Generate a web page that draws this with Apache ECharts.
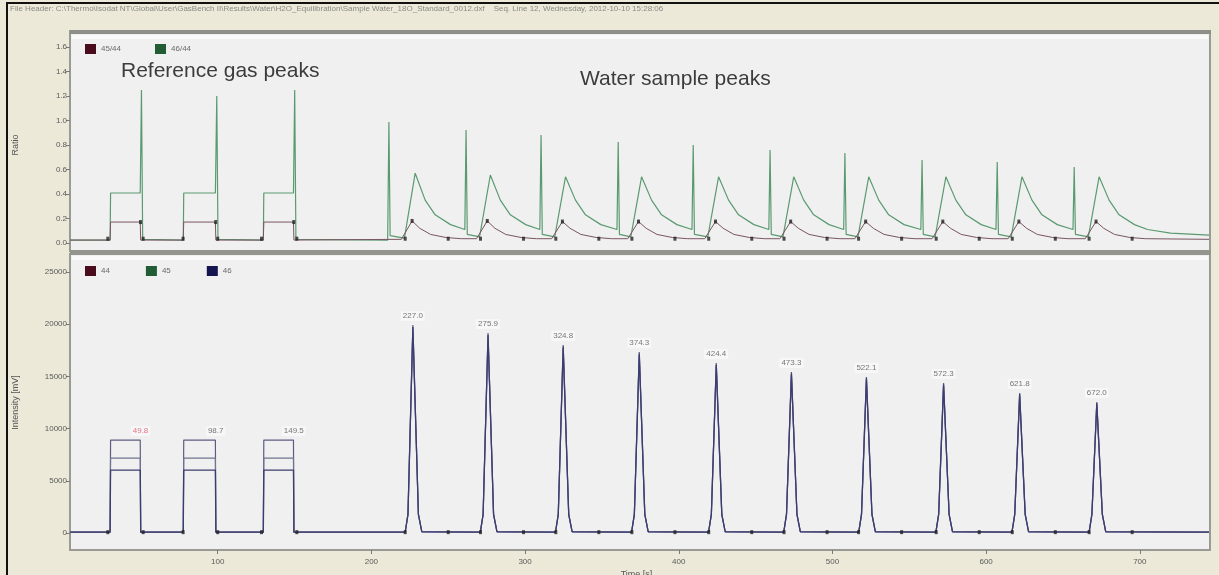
<!DOCTYPE html>
<html>
<head>
<meta charset="utf-8">
<script src="https://cdn.jsdelivr.net/npm/echarts@6/dist/echarts.min.js"></script>
<style>
html,body{margin:0;padding:0;background:#ece9d8;}
#c{width:1219px;height:575px;}
</style>
</head>
<body>
<div id="c"></div>
<script>
// ---------- DATA ----------
// Time axis ticks [s]
const xTickValues = [100, 200, 300, 400, 500, 600, 700];

// Lower panel: intensity traces [time s, intensity mV]
const m44 = [
  [4,80],
  [30.0,80],[30.3,8900],[49.6,8900],[49.9,80],
  [77.6,80],[77.9,8900],[98.5,8900],[98.8,80],
  [129.7,80],[130.0,8900],[149.3,8900],[149.6,80],
  [222.0,80],[223.8,1800],[227.0,19920],[230.6,1800],[232.8,120],
  [270.9,80],[272.7,1800],[275.9,19160],[279.5,1800],[281.7,120],
  [319.8,80],[321.6,1800],[324.8,18010],[328.4,1800],[330.6,120],
  [369.3,80],[371.1,1800],[374.3,17340],[377.9,1800],[380.1,120],
  [419.4,80],[421.2,1800],[424.4,16280],[428.0,1800],[430.2,120],
  [468.3,80],[470.1,1800],[473.3,15420],[476.9,1800],[479.1,120],
  [517.1,80],[518.9,1800],[522.1,14940],[525.7,1800],[527.9,120],
  [567.3,80],[569.1,1800],[572.3,14370],[575.9,1800],[578.1,120],
  [616.8,80],[618.6,1800],[621.8,13410],[625.4,1800],[627.6,120],
  [667.0,80],[668.8,1800],[672.0,12550],[675.6,1800],[677.8,120],
  [745,80]
];
const m45 = [
  [4,80],
  [30.0,80],[30.3,7180],[49.6,7180],[49.9,80],
  [77.6,80],[77.9,7180],[98.5,7180],[98.8,80],
  [129.7,80],[130.0,7180],[149.3,7180],[149.6,80],
  [222.0,80],[223.8,1750],[227.0,19520],[230.6,1750],[232.8,120],
  [270.9,80],[272.7,1750],[275.9,18780],[279.5,1750],[281.7,120],
  [319.8,80],[321.6,1750],[324.8,17650],[328.4,1750],[330.6,120],
  [369.3,80],[371.1,1750],[374.3,16990],[377.9,1750],[380.1,120],
  [419.4,80],[421.2,1750],[424.4,15960],[428.0,1750],[430.2,120],
  [468.3,80],[470.1,1750],[473.3,15110],[476.9,1750],[479.1,120],
  [517.1,80],[518.9,1750],[522.1,14640],[525.7,1750],[527.9,120],
  [567.3,80],[569.1,1750],[572.3,14080],[575.9,1750],[578.1,120],
  [616.8,80],[618.6,1750],[621.8,13140],[625.4,1750],[627.6,120],
  [667.0,80],[668.8,1750],[672.0,12300],[675.6,1750],[677.8,120],
  [745,80]
];
const m46 = [
  [4,80],
  [30.0,80],[30.3,6030],[49.6,6030],[49.9,80],
  [77.6,80],[77.9,6030],[98.5,6030],[98.8,80],
  [129.7,80],[130.0,6030],[149.3,6030],[149.6,80],
  [222.0,80],[223.8,1780],[227.0,19720],[230.6,1780],[232.8,120],
  [270.9,80],[272.7,1780],[275.9,18970],[279.5,1780],[281.7,120],
  [319.8,80],[321.6,1780],[324.8,17830],[328.4,1780],[330.6,120],
  [369.3,80],[371.1,1780],[374.3,17170],[377.9,1780],[380.1,120],
  [419.4,80],[421.2,1780],[424.4,16120],[428.0,1780],[430.2,120],
  [468.3,80],[470.1,1780],[473.3,15270],[476.9,1780],[479.1,120],
  [517.1,80],[518.9,1780],[522.1,14790],[525.7,1780],[527.9,120],
  [567.3,80],[569.1,1780],[572.3,14230],[575.9,1780],[578.1,120],
  [616.8,80],[618.6,1780],[621.8,13280],[625.4,1780],[627.6,120],
  [667.0,80],[668.8,1780],[672.0,12420],[675.6,1780],[677.8,120],
  [745,80]
];

// Peak apex labels (lower panel)
const peakLabelTimes  = [49.8, 98.7, 149.5, 227.0, 275.9, 324.8, 374.3, 424.4, 473.3, 522.1, 572.3, 621.8, 672.0];
const peakLabelHeights= [8900, 8900, 8900, 19920, 19160, 18010, 17340, 16280, 15420, 14940, 14370, 13410, 12550];
const peakLabelTexts  = ["49.8","98.7","149.5","227.0","275.9","324.8","374.3","424.4","473.3","522.1","572.3","621.8","672.0"];

// Peak start / end markers (both panels)
const markStartTimes = [28.5, 77.5, 128.5, 222.0, 271.0, 320.0, 369.5, 419.5, 468.5, 517.0, 567.5, 617.0, 667.0];
const markEndTimes   = [51.5, 100.0, 151.5, 250.0, 299.0, 348.0, 397.5, 447.5, 496.5, 545.0, 595.5, 645.0, 695.0];
// Marks on 45/44 trace maxima (upper panel)
const ratioMarkTimes  = [49.8, 98.7, 149.5, 226.5, 275.4, 324.3, 373.8, 423.9, 472.8, 521.6, 571.8, 621.3, 671.5];
const ratioMarkValues = [0.171, 0.171, 0.171, 0.18, 0.18, 0.175, 0.175, 0.175, 0.175, 0.175, 0.175, 0.175, 0.175];

// Upper panel: ratio traces [time s, ratio]
const r4644 = [
  [4,0.024],
  [30.0,0.024],[30.3,0.408],[49.6,0.408],[50.4,1.249],[51.2,0.03],
  [77.6,0.024],[77.9,0.408],[98.5,0.408],[99.4,1.2],[100.2,0.03],
  [129.7,0.024],[130.0,0.408],[149.3,0.408],[150.1,1.249],[150.9,0.03],
  [210.6,0.024],[211.4,0.988],[212.2,0.06],[221.5,0.04],[228.5,0.57],[235.0,0.35],[241.5,0.23],[251.5,0.15],[260.8,0.11],
  [261.6,0.922],[262.4,0.07],[270.4,0.05],[277.4,0.555],[283.9,0.35],[290.4,0.23],[300.4,0.15],[309.6,0.11],
  [310.4,0.882],[311.2,0.07],[319.3,0.05],[326.3,0.54],[332.8,0.35],[339.3,0.23],[349.3,0.15],[359.8,0.11],
  [360.6,0.824],[361.4,0.07],[368.8,0.05],[375.8,0.54],[382.3,0.35],[388.8,0.23],[398.8,0.15],[408.6,0.11],
  [409.4,0.800],[410.2,0.07],[418.9,0.05],[425.9,0.54],[432.4,0.35],[438.9,0.23],[448.9,0.15],[458.6,0.11],
  [459.4,0.759],[460.2,0.07],[467.8,0.05],[474.8,0.54],[481.3,0.35],[487.8,0.23],[497.8,0.15],[507.3,0.11],
  [508.1,0.735],[508.9,0.07],[516.6,0.05],[523.6,0.54],[530.1,0.35],[536.6,0.23],[546.6,0.15],[557.5,0.11],
  [558.3,0.678],[559.1,0.07],[566.8,0.05],[573.8,0.54],[580.3,0.35],[586.8,0.23],[596.8,0.15],[606.4,0.11],
  [607.2,0.661],[608.0,0.07],[616.3,0.05],[623.3,0.54],[629.8,0.35],[636.3,0.23],[646.3,0.15],[656.5,0.11],
  [657.3,0.620],[658.1,0.07],[666.5,0.05],[673.5,0.54],[680.0,0.35],[686.5,0.23],[696.5,0.15],[705,0.11],[720,0.08],[745,0.065]
];
const r4544 = [
  [4,0.024],
  [30.0,0.024],[30.3,0.171],[49.6,0.171],[49.9,0.024],
  [77.6,0.024],[77.9,0.171],[98.5,0.171],[98.8,0.024],
  [129.7,0.024],[130.0,0.171],[149.3,0.171],[149.6,0.024],
  [219.5,0.03],[226.5,0.18],[231.5,0.12],[238.5,0.07],[248.5,0.045],[258.5,0.035],
  [268.4,0.035],[275.4,0.18],[280.4,0.12],[287.4,0.07],[297.4,0.045],[307.4,0.035],
  [317.3,0.035],[324.3,0.175],[329.3,0.12],[336.3,0.07],[346.3,0.045],[356.3,0.035],
  [366.8,0.035],[373.8,0.175],[378.8,0.12],[385.8,0.07],[395.8,0.045],[405.8,0.035],
  [416.9,0.035],[423.9,0.175],[428.9,0.12],[435.9,0.07],[445.9,0.045],[455.9,0.035],
  [465.8,0.035],[472.8,0.175],[477.8,0.12],[484.8,0.07],[494.8,0.045],[504.8,0.035],
  [514.6,0.035],[521.6,0.175],[526.6,0.12],[533.6,0.07],[543.6,0.045],[553.6,0.035],
  [564.8,0.035],[571.8,0.175],[576.8,0.12],[583.8,0.07],[593.8,0.045],[603.8,0.035],
  [614.3,0.035],[621.3,0.175],[626.3,0.12],[633.3,0.07],[643.3,0.045],[653.3,0.035],
  [664.5,0.035],[671.5,0.175],[676.5,0.12],[683.5,0.07],[693.5,0.045],[703.5,0.035],
  [745,0.03]
];

const headerText = "File Header: C:\\Thermo\\Isodat NT\\Global\\User\\GasBench II\\Results\\Water\\H2O_Equilibration\\Sample Water_18O_Standard_0012.dxf    Seq. Line 12, Wednesday, 2012-10-10 15:28:06";

// ---------- CHART ----------
const FONT = "Liberation Sans, Arial, sans-serif";
const chart = echarts.init(document.getElementById('c'), null, {renderer: 'canvas'});

const peakLabelData = peakLabelTimes.map((t, i) => ({
  value: [t, peakLabelHeights[i]],
  name: peakLabelTexts[i],
  label: i === 0 ? {color: '#e0506a'} : undefined
}));
const lowerMarks = markStartTimes.concat(markEndTimes).map(t => [t, 80]);
const upperMarks = markStartTimes.concat(markEndTimes).map(t => [t, 0.035])
  .concat(ratioMarkTimes.map((t, i) => [t, ratioMarkValues[i]]));

const axisLabelStyle = {fontSize: 8, color: '#5a5a5a', fontFamily: FONT};

chart.setOption({
  animation: false,
  backgroundColor: '#ece9d8',
  textStyle: {fontFamily: FONT},
  graphic: [
    {type: 'text', left: 10, top: 5, style: {text: headerText, fontSize: 8, fill: '#8a8a86', fontFamily: FONT}},
    {type: 'rect', shape: {x: 6, y: 2, width: 2, height: 580}, style: {fill: '#111'}},
    {type: 'rect', shape: {x: 6, y: 2, width: 1220, height: 2}, style: {fill: '#111'}},
    // upper panel
    {type: 'rect', shape: {x: 70, y: 31, width: 1140, height: 220}, style: {fill: '#f0f0f0', stroke: '#9a9a96', lineWidth: 2}},
    {type: 'rect', shape: {x: 70, y: 30, width: 1141, height: 4}, style: {fill: '#8f8f8a'}},
    {type: 'rect', shape: {x: 72, y: 35, width: 1136, height: 4}, style: {fill: '#fafafa'}},
    // lower panel
    {type: 'rect', shape: {x: 70, y: 254, width: 1140, height: 296}, style: {fill: '#f0f0f0', stroke: '#9a9a96', lineWidth: 2}},
    {type: 'rect', shape: {x: 70, y: 250, width: 1141, height: 5}, style: {fill: '#95958f'}},
    {type: 'rect', shape: {x: 72, y: 256, width: 1136, height: 4}, style: {fill: '#fafafa'}},
    // annotations
    {type: 'text', left: 121, top: 61, z: 10, style: {text: 'Reference gas peaks', fontSize: 21, fill: '#3c3c3c', fontFamily: FONT}},
    {type: 'text', left: 580, top: 69, z: 10, style: {text: 'Water sample peaks', fontSize: 21, fill: '#3c3c3c', fontFamily: FONT}}
  ],
  legend: [
    {
      left: 80, top: 39, itemWidth: 11, itemHeight: 10, itemGap: 34, icon: 'rect',
      textStyle: {fontSize: 8, color: '#6a6a6a', fontFamily: FONT},
      data: [
        {name: '45/44', itemStyle: {color: '#4a0d1e'}},
        {name: '46/44', itemStyle: {color: '#215c34'}}
      ]
    },
    {
      left: 80, top: 261, itemWidth: 11, itemHeight: 10, itemGap: 36, icon: 'rect',
      textStyle: {fontSize: 8, color: '#6a6a6a', fontFamily: FONT},
      data: [
        {name: '44', itemStyle: {color: '#4a0d1e'}},
        {name: '45', itemStyle: {color: '#215c34'}},
        {name: '46', itemStyle: {color: '#14144e'}}
      ]
    }
  ],
  grid: [
    {left: 64, width: 1145, top: 47, height: 196, outerBoundsMode: 'none', containLabel: false},
    {left: 64, width: 1145, top: 272, height: 261, outerBoundsMode: 'none', containLabel: false}
  ],
  xAxis: [
    {gridIndex: 0, type: 'value', min: 0, max: 745, show: false},
    {
      gridIndex: 1, type: 'value', min: 0, max: 745, interval: 100, offset: 17,
      axisLine: {show: false, onZero: false},
      axisTick: {show: true, length: 4, lineStyle: {color: '#7a7a7a'}, customValues: xTickValues},
      axisLabel: Object.assign({margin: 8, customValues: xTickValues}, axisLabelStyle),
      splitLine: {show: false},
      name: 'Time [s]', nameLocation: 'middle', nameGap: 20,
      nameTextStyle: {fontSize: 9, color: '#555', fontFamily: FONT}
    }
  ],
  yAxis: [
    {
      gridIndex: 0, type: 'value', min: 0, max: 1.6, interval: 0.2, offset: -6,
      axisLine: {show: false},
      axisTick: {show: true, length: 4, lineStyle: {color: '#7a7a7a'}},
      axisLabel: Object.assign({margin: 3, formatter: v => v.toFixed(1)}, axisLabelStyle),
      splitLine: {show: false},
      name: 'Ratio', nameLocation: 'middle', nameGap: 50, nameRotate: 90,
      nameTextStyle: {fontSize: 9, color: '#555', fontFamily: FONT}
    },
    {
      gridIndex: 1, type: 'value', min: 0, max: 25000, interval: 5000, offset: -6,
      axisLine: {show: false},
      axisTick: {show: true, length: 4, lineStyle: {color: '#7a7a7a'}},
      axisLabel: Object.assign({margin: 3, formatter: v => String(v)}, axisLabelStyle),
      splitLine: {show: false},
      name: 'Intensity [mV]', nameLocation: 'middle', nameGap: 50, nameRotate: 90,
      nameTextStyle: {fontSize: 9, color: '#555', fontFamily: FONT}
    }
  ],
  series: [
    {name: '45/44', type: 'line', xAxisIndex: 0, yAxisIndex: 0, data: r4544, showSymbol: false, z: 3,
     lineStyle: {color: '#7a5561', width: 1}, itemStyle: {color: '#4a0d1e'}},
    {name: '46/44', type: 'line', xAxisIndex: 0, yAxisIndex: 0, data: r4644, showSymbol: false, z: 2,
     lineStyle: {color: '#5a9a70', width: 1.2}, itemStyle: {color: '#215c34'}},
    {name: 'ratioMarks', type: 'scatter', xAxisIndex: 0, yAxisIndex: 0, data: upperMarks,
     symbol: 'rect', symbolSize: [3, 4], itemStyle: {color: '#222'}, z: 5, silent: true},

    {name: '44', type: 'line', xAxisIndex: 1, yAxisIndex: 1, data: m44, showSymbol: false, z: 2,
     lineStyle: {color: '#5c5c80', width: 1.2}, itemStyle: {color: '#4a0d1e'}},
    {name: '45', type: 'line', xAxisIndex: 1, yAxisIndex: 1, data: m45, showSymbol: false, z: 3,
     lineStyle: {color: '#6e7490', width: 1.2}, itemStyle: {color: '#215c34'}},
    {name: '46', type: 'line', xAxisIndex: 1, yAxisIndex: 1, data: m46, showSymbol: false, z: 4,
     lineStyle: {color: '#3c3c70', width: 1.3}, itemStyle: {color: '#14144e'}},
    {name: 'intMarks', type: 'scatter', xAxisIndex: 1, yAxisIndex: 1, data: lowerMarks,
     symbol: 'rect', symbolSize: [3, 4], itemStyle: {color: '#222'}, z: 5, silent: true},
    {name: 'peakLabels', type: 'scatter', xAxisIndex: 1, yAxisIndex: 1, data: peakLabelData,
     symbolSize: 0, z: 6, silent: true,
     label: {show: true, position: 'top', distance: 4, formatter: p => p.name,
             fontSize: 8, color: '#555', fontFamily: FONT,
             backgroundColor: 'rgba(255,255,255,0.55)', padding: [1, 2]}}
  ]
});
</script>
</body>
</html>
